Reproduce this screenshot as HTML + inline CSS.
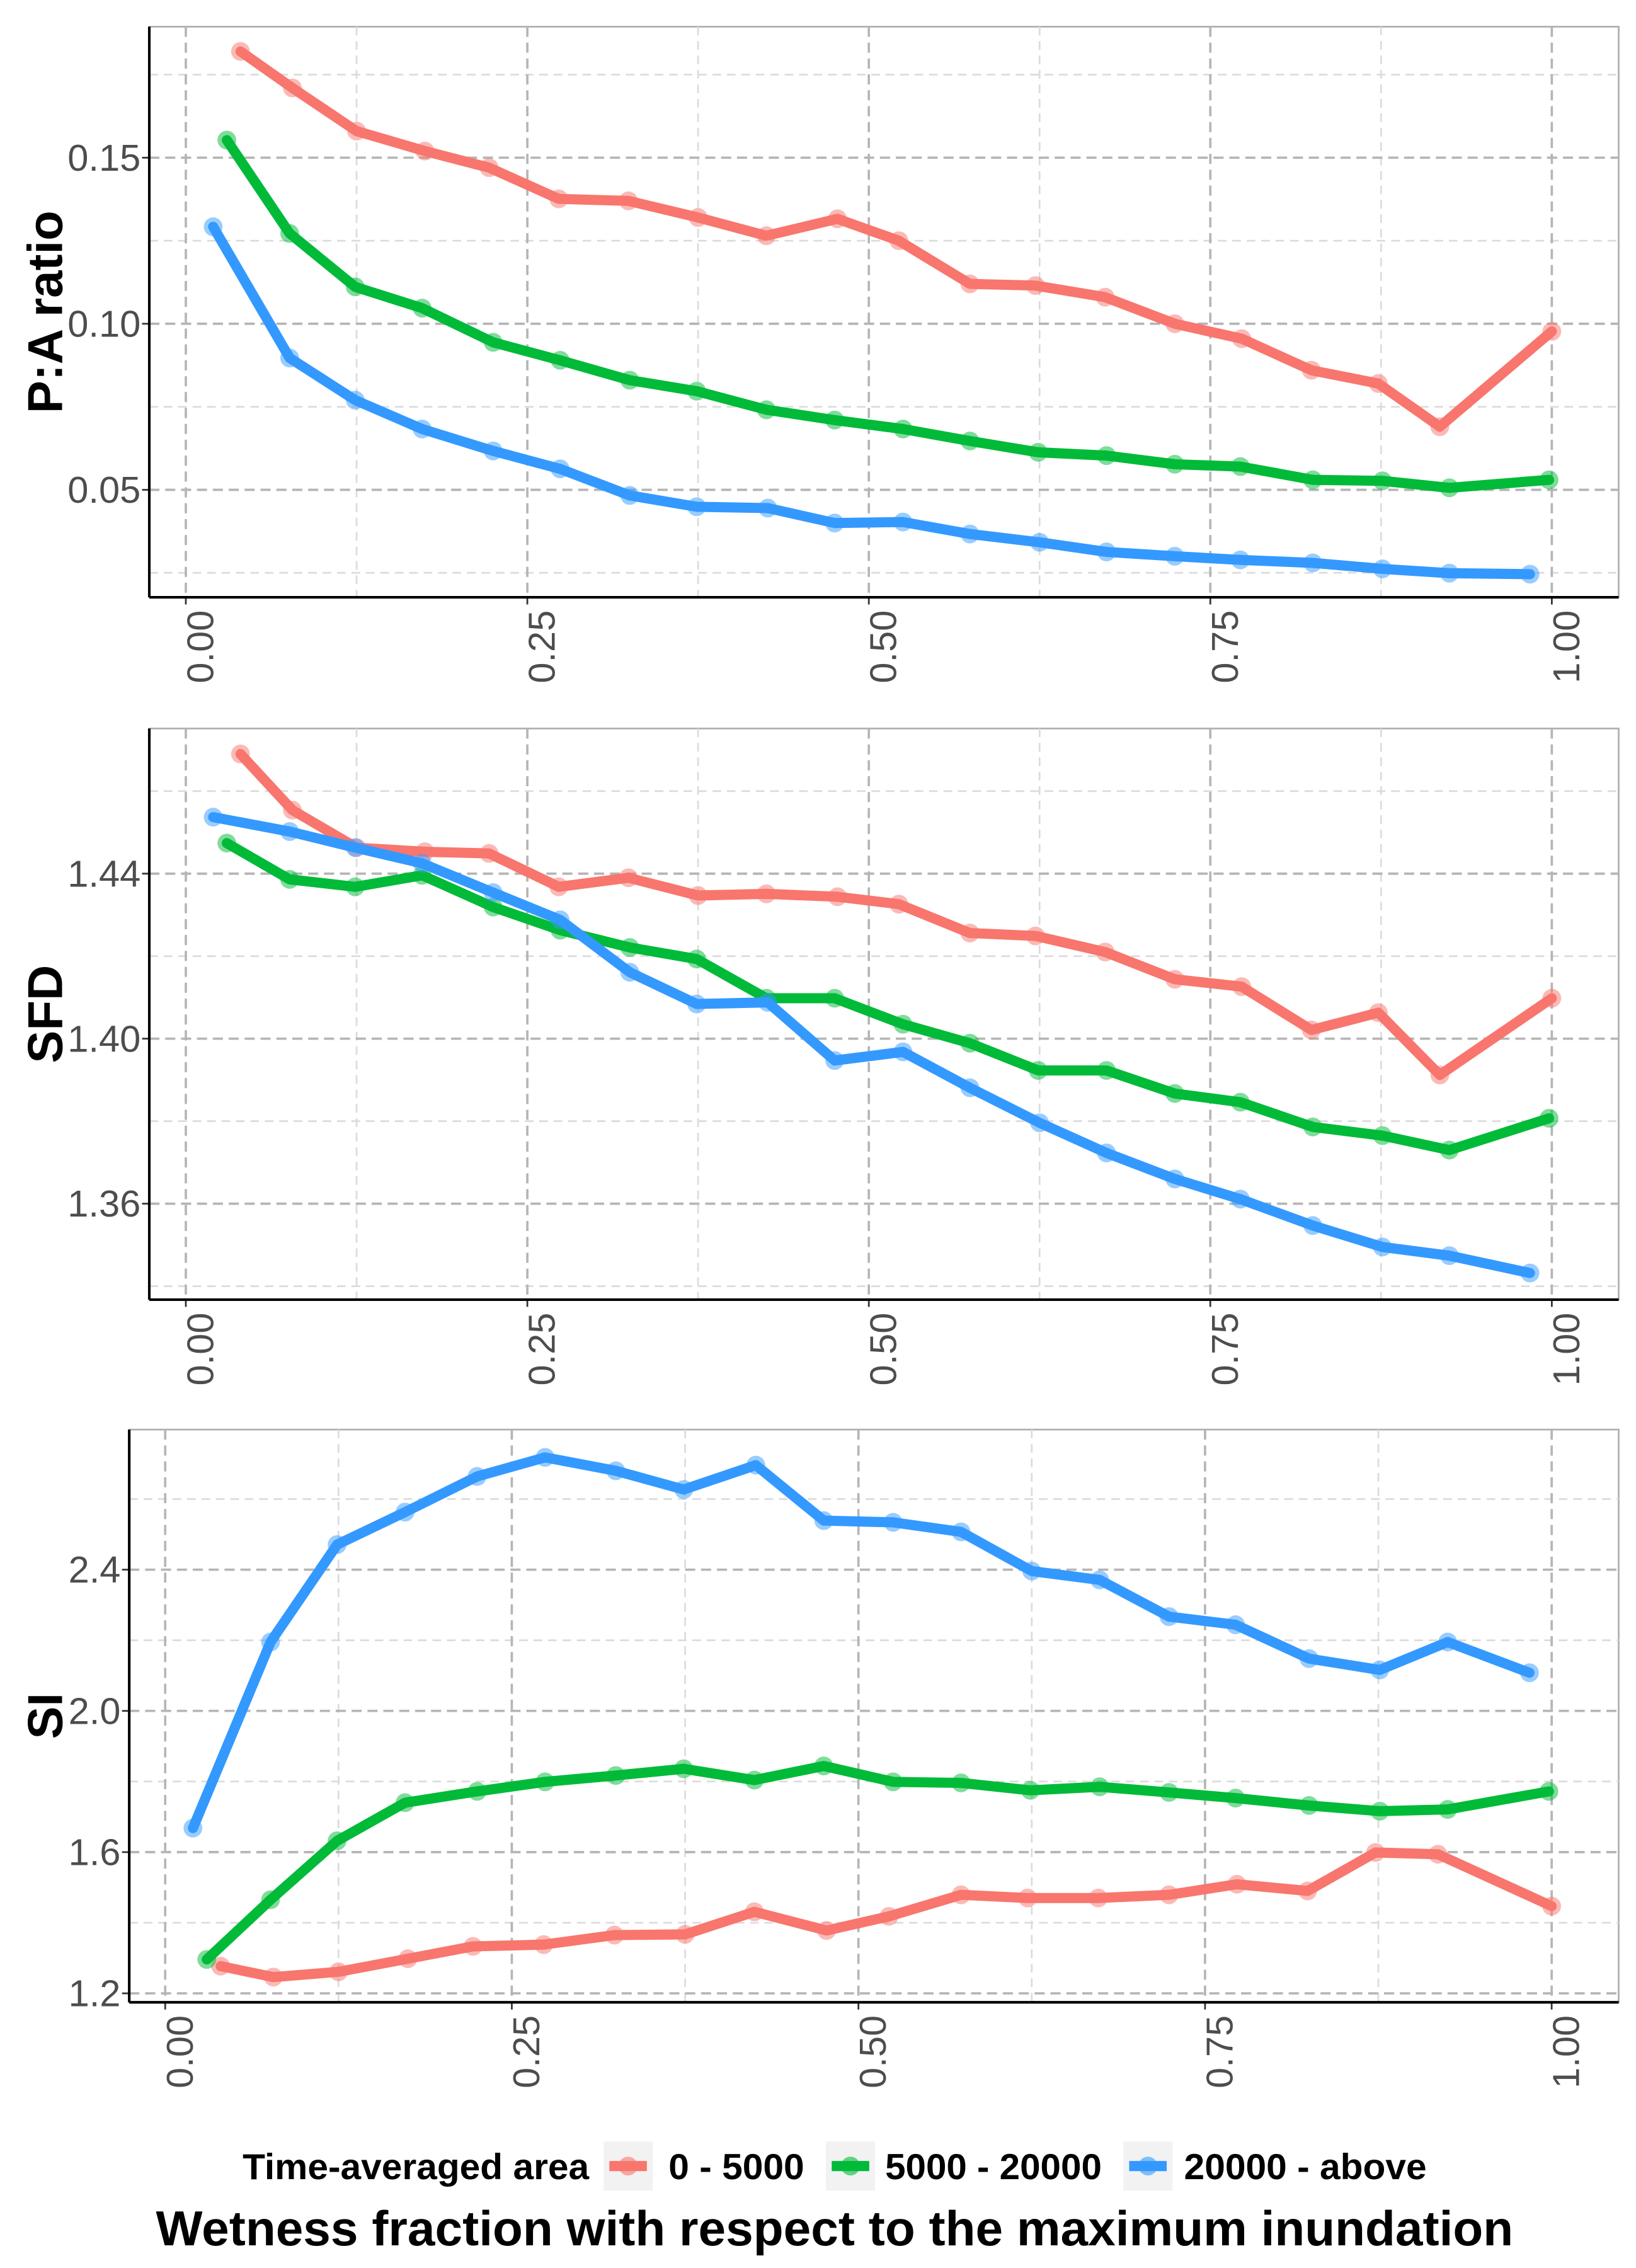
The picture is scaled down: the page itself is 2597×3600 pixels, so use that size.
<!DOCTYPE html>
<html><head><meta charset="utf-8">
<style>
html,body{margin:0;padding:0;background:#fff;}
svg{display:block;font-family:"Liberation Sans",Arial,sans-serif;}
</style></head>
<body>
<svg id="chart" width="2597" height="3600" viewBox="0 0 1133 1570.6" preserveAspectRatio="none" xmlns="http://www.w3.org/2000/svg"></svg>
<script>
// ---- data ----
const xRed   = [0.04,0.078,0.125,0.175,0.222,0.273,0.324,0.375,0.425,0.477,0.522,0.574,0.622,0.673,0.724,0.773,0.824,0.873,0.918,1.0];
const xGreen = [0.03,0.076,0.124,0.173,0.225,0.274,0.325,0.374,0.425,0.475,0.525,0.574,0.624,0.674,0.724,0.772,0.825,0.876,0.925,0.998];
const xBlue  = [0.02,0.076,0.124,0.173,0.225,0.274,0.325,0.374,0.426,0.475,0.525,0.574,0.625,0.674,0.724,0.772,0.825,0.876,0.925,0.984];

const paRed   = [0.182,0.171,0.158,0.152,0.147,0.1376,0.137,0.132,0.1265,0.1316,0.125,0.112,0.1115,0.108,0.100,0.0955,0.086,0.082,0.069,0.0977];
const paGreen = [0.1553,0.1272,0.1111,0.1047,0.0944,0.0890,0.0830,0.0797,0.0741,0.0710,0.0683,0.0647,0.0613,0.0603,0.0577,0.0570,0.0530,0.0527,0.0506,0.0530];
const paBlue  = [0.1292,0.0897,0.0770,0.0683,0.0617,0.0563,0.0483,0.0449,0.0445,0.0400,0.0403,0.0367,0.0342,0.0313,0.0300,0.0289,0.0280,0.0262,0.0249,0.0246];

const sfdRed   = [1.469,1.4554,1.4463,1.4453,1.4449,1.4368,1.439,1.4347,1.4351,1.4344,1.4326,1.4256,1.4249,1.421,1.4144,1.4126,1.4021,1.4063,1.3912,1.4098];
const sfdGreen = [1.4474,1.4386,1.4368,1.4396,1.4319,1.4263,1.4221,1.4193,1.4098,1.4098,1.4035,1.3989,1.3923,1.3923,1.3867,1.3846,1.3786,1.3765,1.373,1.3807];
const sfdBlue  = [1.4537,1.4502,1.4463,1.4425,1.4354,1.4288,1.4161,1.4084,1.4088,1.3947,1.3968,1.3881,1.3796,1.3723,1.366,1.3611,1.3547,1.3495,1.3474,1.3432];

const siRed   = [1.277,1.246,1.261,1.298,1.333,1.338,1.365,1.367,1.431,1.378,1.418,1.479,1.470,1.470,1.479,1.509,1.490,1.599,1.594,1.447];
const siGreen = [1.296,1.465,1.632,1.740,1.772,1.799,1.817,1.836,1.804,1.844,1.799,1.796,1.775,1.785,1.769,1.753,1.732,1.716,1.721,1.772];
const siBlue  = [1.668,2.195,2.471,2.563,2.664,2.718,2.680,2.627,2.696,2.539,2.534,2.507,2.396,2.371,2.267,2.244,2.148,2.116,2.195,2.108];

const xTicks = [0,0.25,0.5,0.75,1.0];
const xTickLabels = ["0.00","0.25","0.50","0.75","1.00"];
const paTicks = [0.05,0.10,0.15]; const paTickLabels = ["0.05","0.10","0.15"];
const sfdTicks = [1.36,1.40,1.44]; const sfdTickLabels = ["1.36","1.40","1.44"];
const siTicks = [1.2,1.6,2.0,2.4]; const siTickLabels = ["1.2","1.6","2.0","2.4"];
const legendLabels = ["0 - 5000","5000 - 20000","20000 - above"];

const COLORS = ["#F8766D","#00BA38","#3399FF"];
const NS = "http://www.w3.org/2000/svg";
const svg = document.getElementById('chart');
function mk(tag, attrs, parent){const e=document.createElementNS(NS,tag);for(const k in attrs)e.setAttribute(k,attrs[k]);(parent||svg).appendChild(e);return e;}

function panel(cfg){
  const g = mk('g',{});
  
  
  const X = v => cfg.x0 + v*cfg.xs;
  const Y = v => cfg.yRef + (cfg.vRef - v)*cfg.ys;
  const bg = mk('rect',{x:cfg.left,y:cfg.top,width:cfg.right-cfg.left,height:cfg.bottom-cfg.top,fill:'#fff',stroke:'#b0b0b0','stroke-width':1.2},g);
  
  
  cfg.minorY.forEach(v=>{mk('line',{x1:cfg.left,x2:cfg.right,y1:Y(v),y2:Y(v),stroke:'#dcdcdc','stroke-width':1.2,'stroke-dasharray':'6,4'},g);});
  [0.125,0.375,0.625,0.875].forEach(v=>{mk('line',{x1:X(v),x2:X(v),y1:cfg.top,y2:cfg.bottom,stroke:'#dcdcdc','stroke-width':1.2,'stroke-dasharray':'6,4'},g);});
  cfg.yTicks.forEach((v,i)=>{
    mk('line',{x1:cfg.left,x2:cfg.right,y1:Y(v),y2:Y(v),stroke:'#b5b5b5','stroke-width':1.6,'stroke-dasharray':'7,4'},g);
    mk('line',{x1:cfg.left-5,x2:cfg.left,y1:Y(v),y2:Y(v),stroke:'#333','stroke-width':1.2},g);
    const t=mk('text',{x:cfg.left-6,y:Y(v)+9,'text-anchor':'end','font-size':26,fill:'#4d4d4d'},g);
    t.textContent=cfg.yLabels[i];
    
    
  });
  xTicks.forEach((v,i)=>{
    mk('line',{x1:X(v),x2:X(v),y1:cfg.top,y2:cfg.bottom,stroke:'#b5b5b5','stroke-width':1.6,'stroke-dasharray':'7,4'},g);
    mk('line',{x1:X(v),x2:X(v),y1:cfg.bottom,y2:cfg.bottom+5,stroke:'#333','stroke-width':1.2},g);
    const tx=X(v)+19, ty=cfg.bottom+9;
    const t=mk('text',{x:tx,y:ty,'text-anchor':'end','font-size':26,fill:'#4d4d4d',transform:`rotate(-90 ${tx} ${ty})`},g);
    t.textContent=xTickLabels[i];
    
    
  });
  mk('line',{x1:cfg.left,x2:cfg.left,y1:cfg.top,y2:cfg.bottom,stroke:'#000','stroke-width':1.8},g);
  mk('line',{x1:cfg.left,x2:cfg.right,y1:cfg.bottom,y2:cfg.bottom,stroke:'#000','stroke-width':1.8},g);
  const names=['series-0-5000','series-5000-20000','series-20000-above'];
  cfg.series.forEach((s,si)=>{
    const xs=cfg.xsets[si];
    const sg=mk('g',{},g);
    
    
    const d=s.map((v,i)=>(i?'L':'M')+X(xs[i]).toFixed(2)+','+Y(v).toFixed(2)).join(' ');
    const p=mk('path',{d:d,fill:'none',stroke:COLORS[si],'stroke-width':7,'stroke-linejoin':'round','stroke-linecap':'round'},sg);
    
    
    s.forEach((v,i)=>{
      const c=mk('circle',{cx:X(xs[i]),cy:Y(v),r:6.5,fill:COLORS[si],'fill-opacity':0.5},sg);
      
      
    });
  });
  const tx=cfg.titleX, ty=(cfg.top+cfg.bottom)/2;
  const t=mk('text',{x:tx,y:ty,'text-anchor':'middle','font-size':34,'font-weight':'bold',fill:'#000',transform:`rotate(-90 ${tx} ${ty})`},g);
  t.textContent=cfg.title;
  
  
}

panel({name:'panel-pa-ratio',left:103.4,right:1121,top:18.5,bottom:413.6,x0:128.7,xs:946,yRef:109.2,vRef:0.15,ys:2300,
  yTicks:paTicks,yLabels:paTickLabels,minorY:[0.025,0.075,0.125,0.175],series:[paRed,paGreen,paBlue],xsets:[xRed,xGreen,xBlue],title:'P:A ratio',titleX:43});
panel({name:'panel-sfd',left:103.4,right:1121,top:504.5,bottom:900,x0:128.7,xs:946,yRef:605,vRef:1.44,ys:2857,
  yTicks:sfdTicks,yLabels:sfdTickLabels,minorY:[1.34,1.38,1.42,1.46],series:[sfdRed,sfdGreen,sfdBlue],xsets:[xRed,xGreen,xBlue],title:'SFD',titleX:43});
panel({name:'panel-si',left:89.5,right:1121,top:990,bottom:1386.6,x0:114.4,xs:960.2,yRef:1087,vRef:2.4,ys:244.5,
  yTicks:siTicks,yLabels:siTickLabels,minorY:[1.4,1.8,2.2,2.6],series:[siRed,siGreen,siBlue],xsets:[xRed,xGreen,xBlue],title:'SI',titleX:43});

const lg=mk('g',{});


const lt=mk('text',{x:168,y:1509,'font-size':25,'font-weight':'bold',fill:'#000',textLength:240,lengthAdjust:'spacingAndGlyphs'},lg);
lt.textContent='Time-averaged area';


const keyX=[418,572,778], labX=[463,613,820], labW=[94,150,168];
legendLabels.forEach((lab,i)=>{
  const e=mk('g',{},lg);
  
  
  mk('rect',{x:keyX[i],y:1483,width:34,height:34,fill:'#f2f2f2'},e);
  mk('line',{x1:keyX[i]+4,x2:keyX[i]+30,y1:1500,y2:1500,stroke:COLORS[i],'stroke-width':7},e);
  mk('circle',{cx:keyX[i]+17,cy:1500,r:6.5,fill:COLORS[i],'fill-opacity':0.6},e);
  const t=mk('text',{x:labX[i],y:1509,'font-size':25,'font-weight':'bold',fill:'#000',textLength:labW[i],lengthAdjust:'spacingAndGlyphs'},e);
  t.textContent=lab;
});
const xt=mk('text',{x:578,y:1555,'text-anchor':'middle','font-size':34,'font-weight':'bold',fill:'#000',textLength:940,lengthAdjust:'spacingAndGlyphs'});
xt.textContent='Wetness fraction with respect to the maximum inundation';


</script>
</body></html>
